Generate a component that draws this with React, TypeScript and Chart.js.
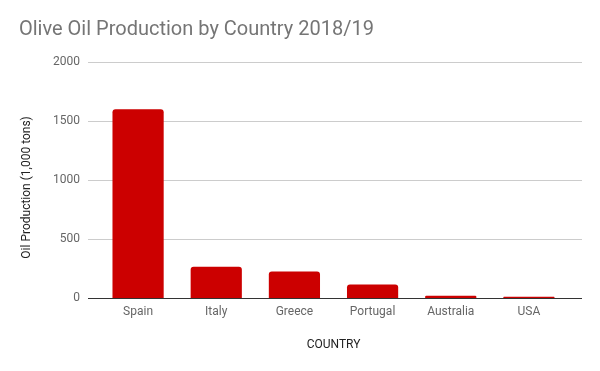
import React, { useEffect, useRef } from "react";
import { Chart, registerables } from "chart.js";

Chart.register(...registerables);

const countries = ["Spain", "Italy", "Greece", "Portugal", "Australia", "USA"];
const production = [1600, 265, 225, 115, 20, 10];
const yTicks = [0, 500, 1000, 1500, 2000];

const gridPlugin = {
  id: "extendedGrid",
  beforeDatasetsDraw(chart: any) {
    const { ctx, chartArea, scales } = chart;
    const y = scales.y;
    ctx.save();
    ctx.lineWidth = 1;
    yTicks.forEach((v) => {
      const py = Math.round(y.getPixelForValue(v)) + 0.5;
      ctx.strokeStyle = v === 0 ? "#333333" : "#cccccc";
      ctx.beginPath();
      ctx.moveTo(chartArea.left - 11, py);
      ctx.lineTo(chartArea.right + 14, py);
      ctx.stroke();
    });
    ctx.restore();
  },
};

export default function App() {
  const ref = useRef<HTMLCanvasElement>(null);
  useEffect(() => {
    document.body.style.margin = "0";
    const chart = new Chart(ref.current!, {
      type: "bar",
      data: {
        labels: countries,
        datasets: [
          {
            data: production,
            backgroundColor: "#cc0000",
            borderRadius: { topLeft: 3, topRight: 3, bottomLeft: 0, bottomRight: 0 },
            borderSkipped: "bottom",
            categoryPercentage: 1,
            barPercentage: 0.655,
          },
        ],
      },
      options: {
        animation: false,
        responsive: false,
        layout: { padding: { left: 19, right: 32, top: 0, bottom: 0 } },
        plugins: {
          legend: { display: false },
          tooltip: { enabled: false },
          title: {
            display: true,
            text: "Olive Oil Production by Country 2018/19",
            align: "start",
            color: "#757575",
            font: { family: "Roboto", size: 20, weight: "normal" },
            padding: { top: 18, bottom: 20 },
          },
        },
        scales: {
          x: {
            grid: { display: false, drawTicks: false },
            border: { display: false },
            ticks: {
              color: "#666666",
              font: { family: "Roboto", size: 12 },
              padding: 7,
            },
            title: {
              display: true,
              text: "COUNTRY",
              color: "#222222",
              font: { family: "Roboto", size: 12 },
              padding: { top: 0, bottom: 19 },
            },
            afterFit: (s: any) => {
              s.height = 73;
            },
          },
          y: {
            min: 0,
            max: 2000,
            grid: { display: false, drawTicks: false },
            border: { display: false },
            ticks: {
              stepSize: 500,
              color: "#666666",
              font: { family: "Roboto", size: 12 },
              padding: 19,
              callback: (v: any) => String(v),
            },
            title: {
              display: true,
              text: "Oil Production (1,000 tons)     ",
              color: "#222222",
              font: { family: "Roboto", size: 12 },
              padding: { top: 1, bottom: 0 },
            },
            afterFit: (s: any) => {
              s.width = 80;
            },
          },
        },
      },
      plugins: [gridPlugin],
    });
    return () => chart.destroy();
  }, []);
  return (
    <div style={{ width: 600, height: 371 }}>
      <canvas ref={ref} width={600} height={371} style={{ display: "block" }} />
    </div>
  );
}
